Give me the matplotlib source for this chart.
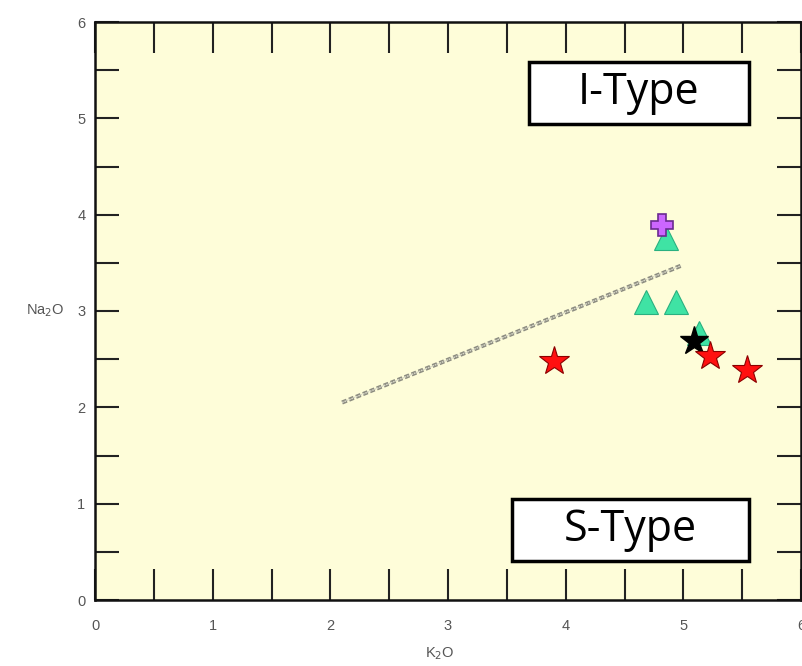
import matplotlib
matplotlib.use('Agg')
import matplotlib.pyplot as plt
import matplotlib.patches as patches
import numpy as np

# data
red_x = [3.90, 5.23, 5.54]
red_y = [2.48, 2.53, 2.39]
black_x = [5.09]
black_y = [2.69]
tri_x = [4.85, 4.68, 4.94, 5.13]
tri_y = [3.76, 3.09, 3.09, 2.77]
cross_x = [4.82]
cross_y = [3.89]
line_x = [2.10, 4.98]
line_y = [2.05, 3.47]
xlabels = ['0', '1', '2', '3', '4', '5', '6']
ylabels = ['0', '1', '2', '3', '4', '5', '6']

plt.rcParams['font.family'] = ['Liberation Sans', 'DejaVu Sans']

fig = plt.figure(figsize=(8.02, 6.66), dpi=100)
ax = fig.add_axes([95/802, 66/666, 706/802, 578/666])
ax.set_facecolor('#fefdd9')

ax.plot(line_x, line_y, color='#8c8c80', lw=3, linestyle=(0, (1.2, 0.6)), zorder=2)
ax.plot(line_x, line_y, color='#d8d8c8', lw=1, linestyle=(0, (1.2, 0.6)), zorder=2)

ax.plot(tri_x, tri_y, linestyle='none', marker='^', ms=17, mfc='#3fe3a4', mec='#2ab080', mew=0.8, zorder=3)
ax.plot(cross_x, cross_y, linestyle='none', marker='P', ms=16, mfc='#cc66ff', mec='#6a2a90', mew=1.2, zorder=4)
ax.plot(black_x, black_y, linestyle='none', marker='*', ms=21, mfc='black', mec='black', zorder=5)
ax.plot(red_x, red_y, linestyle='none', marker='*', ms=22, mfc='#ff1010', mec='#8a0000', mew=0.8, zorder=5)

# label boxes
ax.add_patch(patches.Rectangle((3.69, 4.94), 1.87, 0.64, facecolor='white', edgecolor='black', lw=2.5, zorder=6))
ax.text(4.62, 5.27, 'I-Type', fontsize=31, family='Open Sans', ha='center', va='center', zorder=7)
ax.add_patch(patches.Rectangle((3.54, 0.40), 2.02, 0.65, facecolor='white', edgecolor='black', lw=2.5, zorder=6))
ax.text(4.55, 0.73, 'S-Type', fontsize=31, family='Open Sans', ha='center', va='center', zorder=7)

ax.set_xlim(0, 6)
ax.set_ylim(0, 6)
ax.set_xticks(np.arange(0, 6.01, 0.5))
ax.set_xticklabels([v for pair in zip(xlabels, [''] * len(xlabels)) for v in pair][:13])
ax.set_yticks(np.arange(0, 6.01, 0.5))
ax.set_yticklabels([v for pair in zip(ylabels, [''] * len(ylabels)) for v in pair][:13])

ax.tick_params(axis='x', direction='in', length=22, width=1.5, top=True, pad=14,
               labelsize=10.5, labelcolor='#555555', color='#222222')
ax.tick_params(axis='y', direction='in', length=17, width=1.5, right=True, pad=7,
               labelsize=10.5, labelcolor='#555555', color='#222222')
for s in ax.spines.values():
    s.set_linewidth(1.8)
    s.set_color('#111111')

ax.set_xlabel(r'K$_2$O', fontsize=10.5, color='#555555')
ax.xaxis.set_label_coords(0.489, -0.078)
ax.set_ylabel(r'Na$_2$O', fontsize=10.5, color='#555555', rotation=0, va='center', ha='center')
ax.yaxis.set_label_coords(-0.071, 0.5)

fig.savefig('out.png', dpi=100)
